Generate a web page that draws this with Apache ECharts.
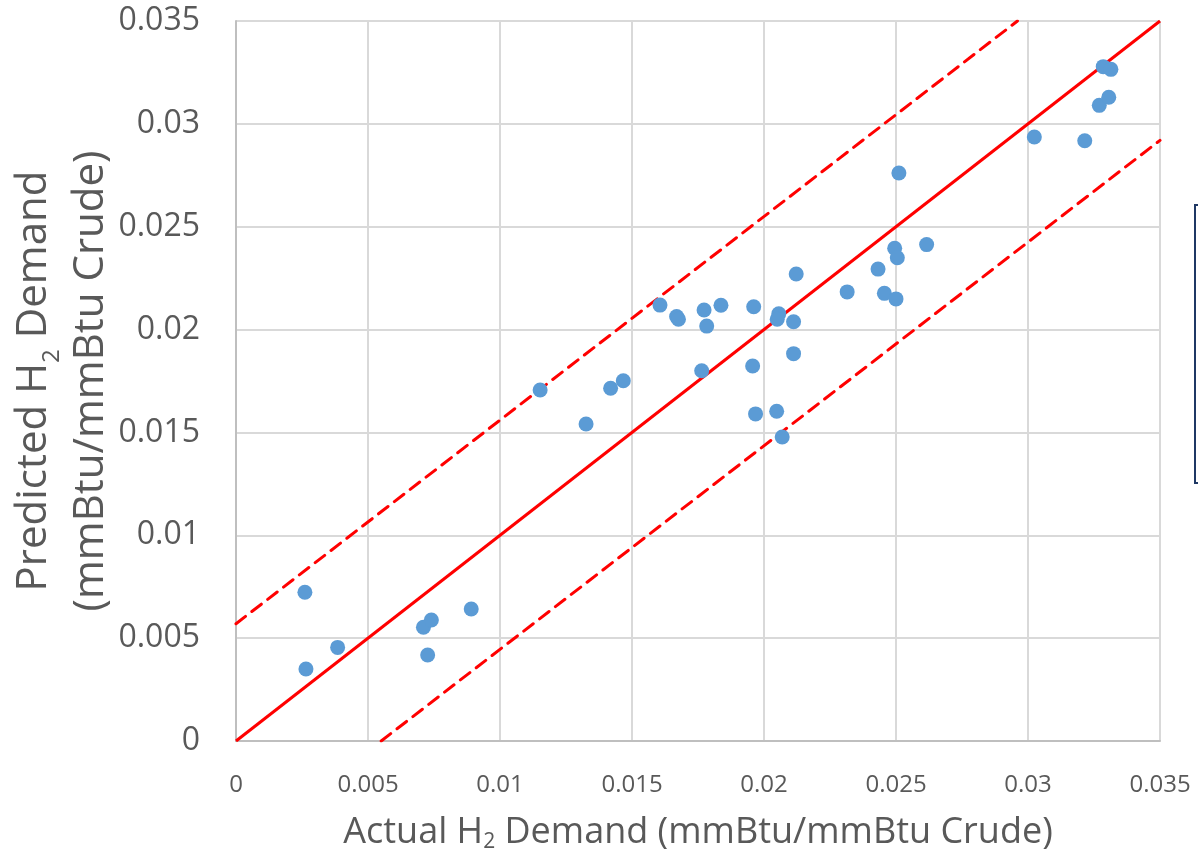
<!DOCTYPE html>
<html>
<head>
<meta charset="utf-8">
<script src="https://cdn.jsdelivr.net/npm/echarts@6/dist/echarts.min.js"></script>
<style>
html,body{margin:0;padding:0;background:#fff;}
#chart{width:1198px;height:858px;}
</style>
</head>
<body>
<div id="chart"></div>
<script>
// Actual vs predicted H2 demand (mmBtu/mmBtu crude)
const actualH2 = [0.00261,0.00265,0.00385,0.00710,0.00740,0.00726,0.00891,0.01152,0.01326,0.01419,
  0.01467,0.01606,0.01669,0.01676,0.01773,0.01783,0.01837,0.01764,0.01961,0.01957,
  0.01968,0.02056,0.02050,0.02112,0.02122,0.02112,0.02048,0.02069,0.02315,0.02432,
  0.02456,0.02500,0.02495,0.02505,0.02511,0.02616,0.03024,0.03215,0.03270,0.03306,
  0.03285,0.03314];
const predictedH2 = [0.00723,0.00350,0.00455,0.00553,0.00588,0.00418,0.00642,0.01706,0.01541,0.01715,
  0.01751,0.02119,0.02063,0.02050,0.02095,0.02017,0.02118,0.01800,0.02111,0.01823,
  0.01590,0.02077,0.02050,0.02038,0.02270,0.01883,0.01603,0.01478,0.02183,0.02294,
  0.02176,0.02149,0.02395,0.02349,0.02761,0.02413,0.02936,0.02918,0.03090,0.03129,
  0.03278,0.03265];
// Parity line and error band endpoints
const parityX = [0, 0.035];
const parityY = [0, 0.035];
const upperX = [0, 0.0296];
const upperY = [0.0057, 0.035];
const lowerX = [0.0055, 0.035];
const lowerY = [0, 0.0292];
const axisTicks = [0, 0.005, 0.01, 0.015, 0.02, 0.025, 0.03, 0.035];

const zip = (a, b) => a.map((v, i) => [v, b[i]]);
const txt = '#595959';
const font = 'Open Sans';

const chart = echarts.init(document.getElementById('chart'));
chart.setOption({
  animation: false,
  backgroundColor: '#fff',
  grid: {left: 236, right: 38, top: 21, bottom: 117, containLabel: false, outerBoundsMode: 'none'},
  xAxis: {
    type: 'value', min: axisTicks[0], max: axisTicks[axisTicks.length - 1], interval: 0.005,
    name: 'Actual H{sub|2} Demand (mmBtu/mmBtu Crude)',
    nameLocation: 'middle', nameGap: 72, nameMoveOverlap: false,
    nameTextStyle: {fontFamily: font, fontSize: 36, color: txt,
      rich: {sub: {fontFamily: font, fontSize: 21, color: txt, verticalAlign: 'bottom', lineHeight: 40}}},
    axisLine: {show: true, lineStyle: {color: '#bfbfbf', width: 2}},
    axisTick: {show: false},
    splitLine: {show: true, lineStyle: {color: '#d9d9d9', width: 2}},
    axisLabel: {fontFamily: font, fontSize: 24, color: txt, margin: 32,
      formatter: v => String(+v.toFixed(3))}
  },
  yAxis: {
    type: 'value', min: axisTicks[0], max: axisTicks[axisTicks.length - 1], interval: 0.005,
    name: 'Predicted H{sub|2} Demand\n(mmBtu/mmBtu Crude)',
    nameLocation: 'middle', nameRotate: 90, nameGap: 117, nameMoveOverlap: false,
    nameTextStyle: {fontFamily: font, fontSize: 42, color: txt, lineHeight: 55, align: 'center',
      rich: {sub: {fontFamily: font, fontSize: 24, color: txt, verticalAlign: 'bottom', lineHeight: 60}}},
    axisLine: {show: true, lineStyle: {color: '#bfbfbf', width: 2}},
    axisTick: {show: false},
    splitLine: {show: true, lineStyle: {color: '#d9d9d9', width: 2}},
    axisLabel: {fontFamily: font, fontSize: 32, color: txt, margin: 36,
      formatter: v => String(+v.toFixed(3))}
  },
  graphic: [{
    type: 'rect', shape: {x: 1195, y: 205, width: 30, height: 278},
    style: {fill: '#fff', stroke: '#1f3864', lineWidth: 2}, z: 10
  }],
  series: [
    {type: 'line', data: zip(parityX, parityY), symbol: 'none', z: 2,
      lineStyle: {color: '#ff0000', width: 3}},
    {type: 'line', data: zip(upperX, upperY), symbol: 'none', z: 2,
      lineStyle: {color: '#ff0000', width: 3, type: [12, 8], cap: 'round'}},
    {type: 'line', data: zip(lowerX, lowerY), symbol: 'none', z: 2,
      lineStyle: {color: '#ff0000', width: 3, type: [12, 8], cap: 'round'}},
    {type: 'scatter', data: zip(actualH2, predictedH2), symbol: 'circle', symbolSize: 15, z: 5,
      itemStyle: {color: '#5b9bd5', opacity: 1}}
  ]
});
</script>
</body>
</html>
